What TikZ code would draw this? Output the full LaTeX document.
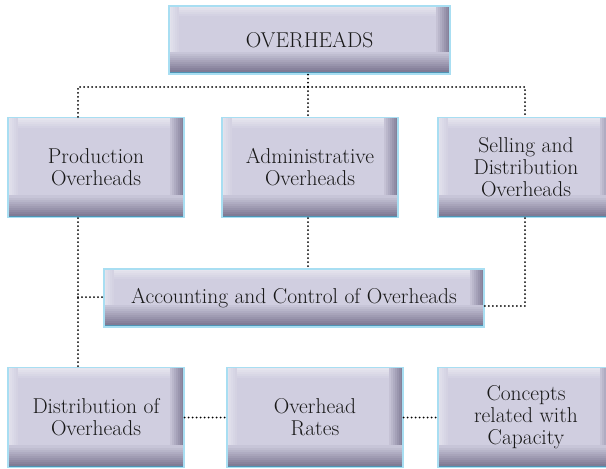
\documentclass[tikz,border=0pt]{standalone}
\usetikzlibrary{positioning}

\definecolor{boxbase}{RGB}{208,206,224}
\definecolor{boxdark}{RGB}{120,115,142}
\definecolor{boxedge}{RGB}{168,222,242}
\definecolor{boxrim}{RGB}{78,148,180}

\tikzset{
    box/.style={rectangle, draw=boxedge, line width=1.2pt, fill=boxbase,
        minimum width=176pt, minimum height=100pt, align=center,
        font=\fontsize{21.5}{22}\selectfont, text=black!90,
        path picture={
            % top and left light bevel
            \foreach \i [evaluate=\i as \p using {int(45-\i*9)}] in {0,...,4}
                \fill[white!\p!boxbase]
                    ([yshift=-2*\i pt]path picture bounding box.north west) rectangle
                    ([yshift=-2*\i pt-2.2pt]path picture bounding box.north east);
            \foreach \i [evaluate=\i as \p using {int(40-\i*8)}] in {0,...,4}
                \fill[white!\p!boxbase]
                    ([xshift=2*\i pt]path picture bounding box.north west) rectangle
                    ([xshift=2*\i pt+2.2pt,yshift=-\i pt]path picture bounding box.south west);
            % right and bottom dark bevel
            \foreach \i [evaluate=\i as \p using {int(85-\i*12)}] in {0,...,6}
                \fill[boxdark!\p!boxbase]
                    ([xshift=-2*\i pt]path picture bounding box.north east) rectangle
                    ([xshift=-2*\i pt-2.2pt]path picture bounding box.south east);
            \foreach \i [evaluate=\i as \p using {int(100-\i*9)}] in {0,...,10}
                \fill[boxdark!\p!boxbase]
                    ([yshift=2*\i pt]path picture bounding box.south west) rectangle
                    ([yshift=2*\i pt+2.2pt]path picture bounding box.south east);
            \fill[boxrim] (path picture bounding box.south west) rectangle
                ([yshift=2pt]path picture bounding box.south east);
        }},
    dotline/.style={line width=2pt, dash pattern=on 0pt off 4pt, line cap=round}
}

\begin{document}
\begin{tikzpicture}[x=1pt,y=1pt]
    \useasboundingbox (0,0) rectangle (606,-469);

    % Boxes
    \node (over) [box, minimum width=281pt, minimum height=68pt] at (309.5,-40) {OVERHEADS};
    \node (prod) [box] at (96,-167.5) {Production\\Overheads};
    \node (admin) [box] at (310,-167.5) {Administrative\\Overheads};
    \node (sell) [box] at (526,-167.5) {Selling and\\Distribution\\Overheads};
    \node (acct) [box, minimum width=380pt, minimum height=58pt] at (294,-298)
        {Accounting and Control of Overheads};
    \node (dist) [box] at (96,-417.5) {Distribution of\\Overheads};
    \node (rates) [box] at (315,-417.5) {Overhead\\Rates};
    \node (capac) [box] at (526,-417.5) {Concepts\\related with\\Capacity};

    % Junctions
    \coordinate (jt) at (308,-87);
    \coordinate (jl) at (78,-87);
    \coordinate (jr) at (525,-87);
    \coordinate (jp) at (78,-297);
    \coordinate (js) at (525,-306);

    % Top level
    \draw [dotline] (over.south -| jt) -- (jt);
    \draw [dotline] (jl |- prod.north) -- (jl) -- (jr) -- (jr |- sell.north);
    \draw [dotline] (jt) -- (jt |- admin.north);

    % Into accounting
    \draw [dotline] (jl |- prod.south) -- (jl |- dist.north);
    \draw [dotline] (jp) -- (acct.west |- jp);
    \draw [dotline] (admin.south -| jt) -- (acct.north -| jt);
    \draw [dotline] (sell.south -| js) -- (js) -- (acct.east |- js);

    % Bottom row
    \draw [dotline] (dist.east) -- (rates.west);
    \draw [dotline] (rates.east) -- (capac.west);
\end{tikzpicture}
\end{document}
